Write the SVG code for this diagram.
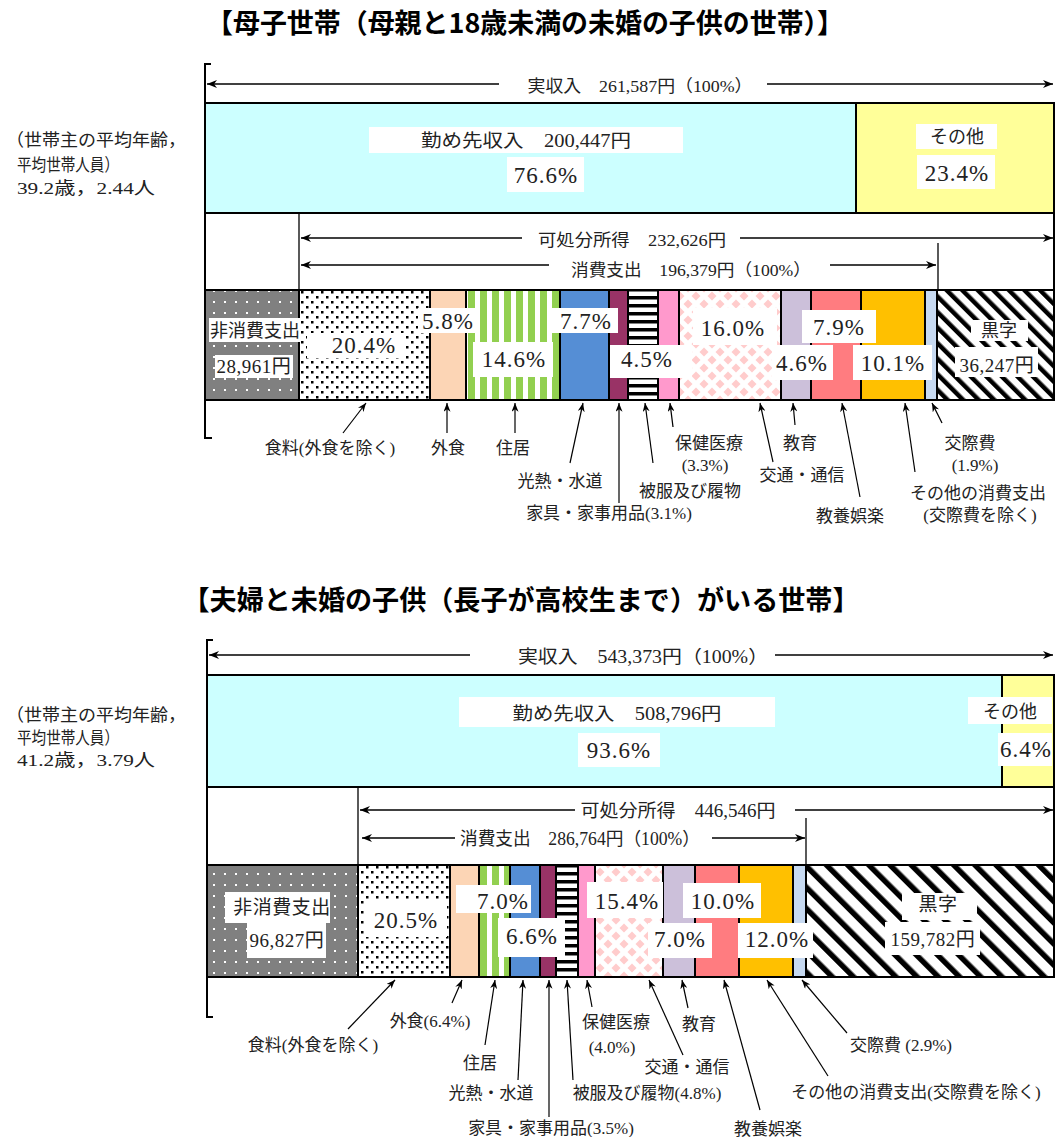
<svg xmlns="http://www.w3.org/2000/svg" width="1055" height="1137" viewBox="0 0 1055 1137">
<style>
.t{font-family:"Liberation Serif","Noto Sans CJK JP",serif;fill:#222;text-anchor:middle}
.s17{font-size:17px}
.s18{font-size:18px}
.s19{font-size:19px;letter-spacing:0.5px}
.p{font-size:23px;letter-spacing:1px}
.lt{font-family:"Liberation Serif","Noto Sans CJK JP",serif;fill:#222;font-size:17.5px}
.title{font-family:"Noto Sans CJK JP",sans-serif;font-weight:bold;font-size:27px;fill:#000;text-anchor:middle}
.seg{stroke:#000;stroke-width:2}
.frame{fill:#fff;stroke:#000;stroke-width:2}
.box{fill:#fff}
.ln{stroke:#000;stroke-width:1.3;fill:none}
.hd{stroke:#000;stroke-width:1.3;fill:none;marker-end:url(#ah)}
.la{stroke:#000;stroke-width:1.2;fill:none;marker-end:url(#ah2)}
.br{stroke:#000;stroke-width:2;fill:none}
</style>
<defs>
<marker id="ah" viewBox="0 0 10 8" refX="10" refY="4" markerWidth="10" markerHeight="8" markerUnits="userSpaceOnUse" orient="auto"><path d="M0,0 L10,4 L0,8 L3,4Z" fill="#000"/></marker>
<marker id="ah2" viewBox="0 0 10 8" refX="10" refY="4" markerWidth="9" markerHeight="7" markerUnits="userSpaceOnUse" orient="auto"><path d="M0,0 L10,4 L0,8 L3,4Z" fill="#000"/></marker>
<pattern id="pGrey" width="11" height="11" patternUnits="userSpaceOnUse"><rect width="11" height="11" fill="#808080"/><rect x="4" y="4" width="2" height="2" fill="#fff"/></pattern>
<pattern id="pDots" width="10" height="10" patternUnits="userSpaceOnUse"><rect width="10" height="10" fill="#fff"/><rect x="1" y="1" width="2.5" height="2.5" fill="#000"/><rect x="6" y="6" width="2.5" height="2.5" fill="#000"/></pattern>
<pattern id="pGreen" width="12" height="10" patternUnits="userSpaceOnUse"><rect width="12" height="10" fill="#fff"/><rect width="7" height="10" fill="#92D050"/></pattern>
<pattern id="pH" width="10" height="8" patternUnits="userSpaceOnUse"><rect width="10" height="8" fill="#fff"/><rect width="10" height="3.5" fill="#000"/></pattern>
<pattern id="pDia" width="16" height="16" patternUnits="userSpaceOnUse"><rect width="16" height="16" fill="#fff"/><path d="M8,3.5 L12.5,8 L8,12.5 L3.5,8Z M0,-4.5 L4.5,0 L0,4.5 L-4.5,0Z M16,-4.5 L20.5,0 L16,4.5 L11.5,0Z M0,11.5 L4.5,16 L0,20.5 L-4.5,16Z M16,11.5 L20.5,16 L16,20.5 L11.5,16Z" fill="#FFCCCC"/></pattern>
<pattern id="pDiag" width="11" height="11" patternUnits="userSpaceOnUse" patternTransform="rotate(-45)"><rect width="11" height="11" fill="#fff"/><rect width="4.5" height="11" fill="#000"/></pattern>
<pattern id="pDiag2" width="15" height="15" patternUnits="userSpaceOnUse" patternTransform="rotate(-45)"><rect width="15" height="15" fill="#fff"/><rect width="5.5" height="15" fill="#000"/></pattern>
</defs>
<rect width="1055" height="1137" fill="#fff"/>

<!-- ===== TOP CHART ===== -->
<text id="title-top" class="title" x="525" y="33" textLength="638" lengthAdjust="spacingAndGlyphs">【母子世帯（母親と18歳未満の未婚の子供の世帯）】</text>
<g id="info-top">
<text class="lt" x="6" y="146" textLength="180" lengthAdjust="spacingAndGlyphs">（世帯主の平均年齢，</text>
<text class="lt" x="17" y="171" textLength="102" lengthAdjust="spacingAndGlyphs">平均世帯人員）</text>
<text class="lt" x="17" y="194" textLength="138" lengthAdjust="spacingAndGlyphs">39.2歳，2.44人</text>
</g>
<path class="br" d="M211,64 L205,64 L205,438 L212,438"/>

<g id="top-income">
<rect class="seg" x="205" y="103" width="651" height="110" fill="#CCFFFF"/>
<rect class="box" x="369" y="127" width="314" height="26"/>
<text class="t s18" x="526" y="147" textLength="210" lengthAdjust="spacingAndGlyphs">勤め先収入　200,447円</text>
<rect class="box" x="507" y="157" width="77" height="35"/>
<text class="t p" x="546" y="183">76.6%</text>
</g>
<g id="top-other">
<rect class="seg" x="856" y="103" width="198" height="110" fill="#FFFF99"/>
<rect class="box" x="916" y="124" width="81" height="25"/>
<text class="t s18" x="957" y="143">その他</text>
<rect class="box" x="917" y="155" width="78" height="34"/>
<text class="t p" x="957" y="181">23.4%</text>
</g>
<rect class="frame" x="205" y="213" width="849" height="77"/>
<line class="ln" x1="299" y1="213" x2="299" y2="290"/>
<line class="ln" x1="938" y1="243" x2="938" y2="290"/>
<text class="t s17" x="640" y="92" textLength="225" lengthAdjust="spacingAndGlyphs">実収入　261,587円（100%）</text>
<text class="t s17" x="632" y="246" textLength="188" lengthAdjust="spacingAndGlyphs">可処分所得　232,626円</text>
<text class="t s17" x="691" y="276" textLength="240" lengthAdjust="spacingAndGlyphs">消費支出　196,379円（100%）</text>

<g id="top-bar">
<g id="t-nonconsump"><rect class="seg" x="205" y="290" width="94" height="110" fill="url(#pGrey)"/></g>
<g id="t-food"><rect class="seg" x="299" y="290" width="131" height="110" fill="url(#pDots)"/></g>
<g id="t-eatout"><rect class="seg" x="430" y="290" width="36" height="110" fill="#FCD5B5"/></g>
<g id="t-housing"><rect class="seg" x="466" y="290" width="94" height="110" fill="url(#pGreen)"/></g>
<g id="t-fuel"><rect class="seg" x="560" y="290" width="49" height="110" fill="#558ED5"/></g>
<g id="t-furniture"><rect class="seg" x="609" y="290" width="19" height="110" fill="#993366"/></g>
<g id="t-clothing"><rect class="seg" x="628" y="290" width="30" height="110" fill="url(#pH)"/></g>
<g id="t-medical"><rect class="seg" x="658" y="290" width="21" height="110" fill="#FF99CC"/></g>
<g id="t-transport"><rect class="seg" x="679" y="290" width="102" height="110" fill="url(#pDia)"/></g>
<g id="t-education"><rect class="seg" x="781" y="290" width="30" height="110" fill="#CCC0DA"/></g>
<g id="t-recreation"><rect class="seg" x="811" y="290" width="50" height="110" fill="#FF7C80"/></g>
<g id="t-otherexp"><rect class="seg" x="861" y="290" width="64" height="110" fill="#FFC000"/></g>
<g id="t-social"><rect class="seg" x="925" y="290" width="12" height="110" fill="#C6D9F1"/></g>
<g id="t-surplus"><rect class="seg" x="937" y="290" width="117" height="110" fill="url(#pDiag)"/></g>
</g>
<g id="top-bar-labels">
<g id="t-nonconsump-lbl"><rect class="box" x="209" y="318" width="92" height="24"/><text class="t s18" x="255" y="337">非消費支出</text>
<rect class="box" x="215" y="355" width="78" height="23"/><text class="t s19" x="254" y="373">28,961円</text></g>
<g id="t-food-lbl"><rect class="box" x="307" y="333" width="98" height="25"/><text class="t p" x="364" y="353">20.4%</text></g>
<g id="t-eatout-lbl"><rect class="box" x="418" y="308" width="59" height="25"/><text class="t p" x="448" y="329">5.8%</text></g>
<g id="t-housing-lbl"><rect class="box" x="473" y="342" width="80" height="35"/><text class="t p" x="514" y="367">14.6%</text></g>
<g id="t-fuel-lbl"><rect class="box" x="552" y="308" width="66" height="25"/><text class="t p" x="586" y="329">7.7%</text></g>
<g id="t-clothing-lbl"><rect class="box" x="610" y="345" width="82" height="33"/><text class="t p" x="647" y="367">4.5%</text></g>
<g id="t-transport-lbl"><rect class="box" x="693" y="308" width="84" height="37"/><text class="t p" x="733" y="336">16.0%</text></g>
<g id="t-recreation-lbl"><rect class="box" x="802" y="310" width="74" height="33"/><text class="t p" x="839" y="335">7.9%</text></g>
<g id="t-education-lbl"><rect class="box" x="772" y="345" width="61" height="35"/><text class="t p" x="802" y="371">4.6%</text></g>
<g id="t-otherexp-lbl"><rect class="box" x="853" y="345" width="79" height="35"/><text class="t p" x="893" y="371">10.1%</text></g>
<g id="t-surplus-lbl"><rect class="box" x="971" y="320" width="57" height="21"/><text class="t s18" x="999" y="337">黒字</text>
<rect class="box" x="955" y="347" width="83" height="30"/><text class="t s19" x="997" y="372">36,247円</text></g>
</g>

<g id="top-labels">
<text class="t s17" x="330" y="454">食料(外食を除く)</text>
<text class="t s17" x="448" y="454">外食</text>
<text class="t s17" x="513" y="454">住居</text>
<text class="t s17" x="560" y="487">光熱・水道</text>
<text class="t s17" x="609" y="519">家具・家事用品(3.1%)</text>
<text class="t s17" x="690" y="497">被服及び履物</text>
<text class="t s17" x="709" y="449">保健医療</text>
<text class="t s17" x="705" y="471">(3.3%)</text>
<text class="t s17" x="802" y="481">交通・通信</text>
<text class="t s17" x="800" y="449">教育</text>
<text class="t s17" x="850" y="522">教養娯楽</text>
<text class="t s17" x="978" y="499">その他の消費支出</text>
<text class="t s17" x="980" y="521">(交際費を除く)</text>
<text class="t s17" x="970" y="449">交際費</text>
<text class="t s17" x="975" y="471">(1.9%)</text>
</g>

<!-- ===== BOTTOM CHART ===== -->
<text id="title-bottom" class="title" x="521" y="610" textLength="677" lengthAdjust="spacingAndGlyphs">【夫婦と未婚の子供（長子が高校生まで）がいる世帯】</text>
<g id="info-bottom">
<text class="lt" x="6" y="721" textLength="180" lengthAdjust="spacingAndGlyphs">（世帯主の平均年齢，</text>
<text class="lt" x="17" y="744" textLength="102" lengthAdjust="spacingAndGlyphs">平均世帯人員）</text>
<text class="lt" x="17" y="766" textLength="138" lengthAdjust="spacingAndGlyphs">41.2歳，3.79人</text>
</g>
<path class="br" d="M213,640 L207,640 L207,1017 L213,1017"/>

<g id="bottom-income">
<rect class="seg" x="207" y="675" width="795" height="112" fill="#CCFFFF"/>
<rect class="box" x="459" y="697" width="316" height="30"/>
<text class="t s18" x="617" y="720" textLength="209" lengthAdjust="spacingAndGlyphs">勤め先収入　508,796円</text>
<rect class="box" x="578" y="733" width="82" height="34"/>
<text class="t p" x="619" y="758">93.6%</text>
</g>
<g id="bottom-other">
<rect class="seg" x="1002" y="675" width="52" height="112" fill="#FFFF99"/>
<rect class="box" x="968" y="697" width="84" height="27"/>
<text class="t s18" x="1010" y="718">その他</text>
<rect class="box" x="998" y="733" width="54" height="33"/>
<text class="t p" x="1026" y="757">6.4%</text>
</g>
<rect class="frame" x="207" y="787" width="847" height="78"/>
<line class="ln" x1="358" y1="787" x2="358" y2="865"/>
<line class="ln" x1="806" y1="818" x2="806" y2="865"/>
<text class="t s18" x="643" y="663" textLength="250" lengthAdjust="spacingAndGlyphs">実収入　543,373円（100%）</text>
<text class="t s18" x="678" y="817" textLength="195" lengthAdjust="spacingAndGlyphs">可処分所得　446,546円</text>
<text class="t s18" x="580" y="845" textLength="240" lengthAdjust="spacingAndGlyphs">消費支出　286,764円（100%）</text>

<g id="bottom-bar">
<g id="b-nonconsump"><rect class="seg" x="207" y="865" width="151" height="112" fill="url(#pGrey)"/></g>
<g id="b-food"><rect class="seg" x="358" y="865" width="92" height="112" fill="url(#pDots)"/></g>
<g id="b-eatout"><rect class="seg" x="450" y="865" width="29" height="112" fill="#FCD5B5"/></g>
<g id="b-housing"><rect class="seg" x="479" y="865" width="31" height="112" fill="url(#pGreen)"/></g>
<g id="b-fuel"><rect class="seg" x="510" y="865" width="30" height="112" fill="#558ED5"/></g>
<g id="b-furniture"><rect class="seg" x="540" y="865" width="16" height="112" fill="#993366"/></g>
<g id="b-clothing"><rect class="seg" x="556" y="865" width="22" height="112" fill="url(#pH)"/></g>
<g id="b-medical"><rect class="seg" x="578" y="865" width="17" height="112" fill="#FF99CC"/></g>
<g id="b-transport"><rect class="seg" x="595" y="865" width="68" height="112" fill="url(#pDia)"/></g>
<g id="b-education"><rect class="seg" x="663" y="865" width="32" height="112" fill="#CCC0DA"/></g>
<g id="b-recreation"><rect class="seg" x="695" y="865" width="44" height="112" fill="#FF7C80"/></g>
<g id="b-otherexp"><rect class="seg" x="739" y="865" width="54" height="112" fill="#FFC000"/></g>
<g id="b-social"><rect class="seg" x="793" y="865" width="13" height="112" fill="#C6D9F1"/></g>
<g id="b-surplus"><rect class="seg" x="806" y="865" width="248" height="112" fill="url(#pDiag2)"/></g>
</g>
<g id="bottom-bar-labels">
<g id="b-nonconsump-lbl"><rect class="box" x="225" y="892" width="105" height="31"/><text class="t s19" x="282" y="914">非消費支出</text>
<rect class="box" x="247" y="923" width="79" height="35"/><text class="t s19" x="287" y="947">96,827円</text></g>
<g id="b-food-lbl"><rect class="box" x="365" y="900" width="82" height="37"/><text class="t p" x="406" y="928">20.5%</text></g>
<g id="b-housing-lbl"><rect class="box" x="456" y="885" width="75" height="28"/><text class="t p" x="503" y="909">7.0%</text></g>
<g id="b-fuel-lbl"><rect class="box" x="498" y="918" width="67" height="39"/><text class="t p" x="532" y="944">6.6%</text></g>
<g id="b-transport-lbl"><rect class="box" x="587" y="882" width="76" height="36"/><text class="t p" x="627" y="909">15.4%</text></g>
<g id="b-recreation-lbl"><rect class="box" x="683" y="883" width="78" height="35"/><text class="t p" x="723" y="909">10.0%</text></g>
<g id="b-education-lbl"><rect class="box" x="648" y="923" width="64" height="35"/><text class="t p" x="680" y="947">7.0%</text></g>
<g id="b-otherexp-lbl"><rect class="box" x="738" y="923" width="75" height="35"/><text class="t p" x="777" y="947">12.0%</text></g>
<g id="b-surplus-lbl"><rect class="box" x="902" y="893" width="75" height="27"/><text class="t s19" x="938" y="911">黒字</text>
<rect class="box" x="885" y="922" width="95" height="33"/><text class="t s19" x="933" y="946">159,782円</text></g>
</g>

<g id="bottom-labels">
<text class="t s17" x="313" y="1051">食料(外食を除く)</text>
<text class="t s17" x="430" y="1027">外食(6.4%)</text>
<text class="t s17" x="480" y="1069">住居</text>
<text class="t s17" x="491" y="1099">光熱・水道</text>
<text class="t s17" x="551" y="1134">家具・家事用品(3.5%)</text>
<text class="t s17" x="647" y="1099">被服及び履物(4.8%)</text>
<text class="t s17" x="616" y="1028">保健医療</text>
<text class="t s17" x="612" y="1053">(4.0%)</text>
<text class="t s17" x="687" y="1073">交通・通信</text>
<text class="t s17" x="699" y="1030">教育</text>
<text class="t s17" x="768" y="1135">教養娯楽</text>
<text class="t s17" x="916" y="1098">その他の消費支出(交際費を除く)</text>
<text class="t s17" x="901" y="1051">交際費 (2.9%)</text>
</g>

<g id="connectors">
<line class="hd" x1="499" y1="84" x2="207" y2="84"/>
<line class="hd" x1="767" y1="84" x2="1053" y2="84"/>
<line class="hd" x1="522" y1="238" x2="301" y2="238"/>
<line class="hd" x1="740" y1="238" x2="1053" y2="238"/>
<line class="hd" x1="549" y1="265" x2="301" y2="265"/>
<line class="hd" x1="830" y1="265" x2="936" y2="265"/>
<line class="la" x1="343" y1="433" x2="366" y2="403"/>
<line class="la" x1="447" y1="433" x2="447" y2="403"/>
<line class="la" x1="515" y1="433" x2="515" y2="403"/>
<line class="la" x1="570" y1="463" x2="583" y2="403"/>
<line class="la" x1="619" y1="503" x2="619" y2="403"/>
<line class="la" x1="653" y1="463" x2="645" y2="403"/>
<line class="la" x1="673" y1="427" x2="670" y2="403"/>
<line class="la" x1="773" y1="462" x2="760" y2="403"/>
<line class="la" x1="795" y1="425" x2="793" y2="403"/>
<line class="la" x1="860" y1="497" x2="842" y2="403"/>
<line class="la" x1="915" y1="472" x2="905" y2="403"/>
<line class="la" x1="942" y1="423" x2="932" y2="403"/>
<line class="hd" x1="470" y1="655" x2="209" y2="655"/>
<line class="hd" x1="775" y1="655" x2="1053" y2="655"/>
<line class="hd" x1="575" y1="810" x2="360" y2="810"/>
<line class="hd" x1="795" y1="810" x2="1053" y2="810"/>
<line class="hd" x1="455" y1="838" x2="362" y2="838"/>
<line class="hd" x1="712" y1="838" x2="805" y2="838"/>
<line class="la" x1="348" y1="1029" x2="395" y2="980"/>
<line class="la" x1="452" y1="1003" x2="462" y2="980"/>
<line class="la" x1="485" y1="1045" x2="495" y2="980"/>
<line class="la" x1="518" y1="1080" x2="523" y2="980"/>
<line class="la" x1="549" y1="1117" x2="549" y2="980"/>
<line class="la" x1="573" y1="1080" x2="567" y2="980"/>
<line class="la" x1="592" y1="1007" x2="587" y2="980"/>
<line class="la" x1="683" y1="1055" x2="649" y2="980"/>
<line class="la" x1="688" y1="1008" x2="682" y2="980"/>
<line class="la" x1="760" y1="1110" x2="724" y2="980"/>
<line class="la" x1="828" y1="1076" x2="767" y2="980"/>
<line class="la" x1="847" y1="1033" x2="802" y2="980"/>
</g>
</svg>
